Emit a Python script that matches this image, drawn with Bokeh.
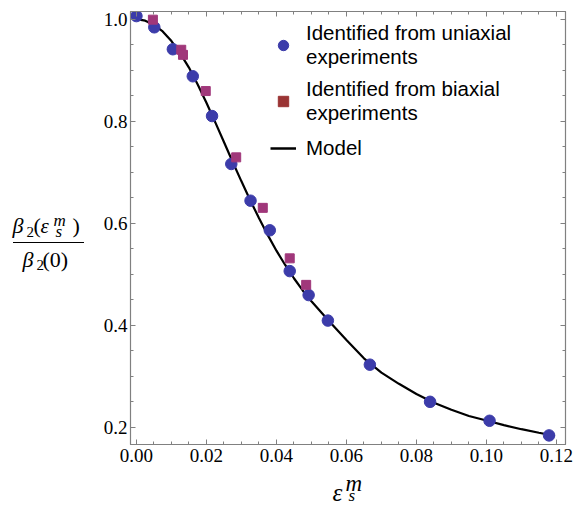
from bokeh.plotting import figure
from bokeh.layouts import row, column
from bokeh.models import Range1d, FixedTicker, LinearAxis, Legend, LegendItem
from bokeh.core.properties import value
from bokeh.embed import file_html
from bokeh.resources import INLINE

# ---- data ----
uni_x = [0.0, 0.0051, 0.0104, 0.0161, 0.0216, 0.0271, 0.0326, 0.0381,
         0.0438, 0.0492, 0.0547, 0.0667, 0.0839, 0.1009, 0.1179]
uni_y = [1.006, 0.984, 0.941, 0.888, 0.810, 0.716, 0.644, 0.586,
         0.506, 0.459, 0.409, 0.3225, 0.2497, 0.2125, 0.1838]

bi_x = [0.0047, 0.0128, 0.0133, 0.0198, 0.0285, 0.0361, 0.0438, 0.0485]
bi_y = [0.999, 0.940, 0.930, 0.859, 0.729, 0.630, 0.531, 0.479]

model_x = [0.0, 0.0025, 0.005, 0.0075, 0.01, 0.0125, 0.015, 0.0175, 0.02,
           0.0225, 0.025, 0.0275, 0.03, 0.0325, 0.035, 0.0375, 0.04, 0.0425,
           0.045, 0.0475, 0.05, 0.055, 0.06, 0.065, 0.07, 0.075, 0.08, 0.085,
           0.09, 0.095, 0.10, 0.105, 0.11, 0.115, 0.1195]
model_y = [1.000, 0.997, 0.989, 0.976, 0.957, 0.933, 0.905, 0.872, 0.836,
           0.798, 0.759, 0.720, 0.682, 0.645, 0.610, 0.577, 0.546, 0.518,
           0.492, 0.468, 0.447, 0.408, 0.371, 0.335, 0.307, 0.285, 0.265,
           0.248, 0.234, 0.222, 0.213, 0.204, 0.196, 0.189, 0.183]

x_ticks = [0.0, 0.02, 0.04, 0.06, 0.08, 0.10, 0.12]
y_ticks = [0.2, 0.4, 0.6, 0.8, 1.0]
x_minor = [i * 0.005 for i in range(0, 25)]
y_minor = [0.15 + i * 0.05 for i in range(0, 18)]

legend_labels = ["Identified from uniaxial\nexperiments",
                 "Identified from biaxial\nexperiments",
                 "Model"]

FRAME = "#808080"
BLUE = "#3c3caa"
MAG = "#a0377a"
RED = "#9a3434"
SERIF = "Liberation Serif"
NAN = float("nan")

TOP_H = 470
LEFT_W = 94
F_TOP, F_BOT = 11, 444          # frame top / bottom on the page

# ---------------- main plot ----------------
p = figure(width=586 - LEFT_W, height=TOP_H, output_backend="svg", toolbar_location=None,
           title=None,
           x_range=Range1d(-0.0017, 0.1226), y_range=Range1d(0.166, 1.015),
           min_border_left=36, min_border_right=21, min_border_top=F_TOP,
           min_border_bottom=TOP_H - F_BOT)
p.grid.visible = False
p.outline_line_color = FRAME
p.outline_line_width = 1.2


def style_axis(ax, ticks, minor, show_labels=True, standoff=4):
    ax.ticker = FixedTicker(ticks=ticks, minor_ticks=minor)
    ax.axis_line_color = FRAME
    ax.major_tick_line_color = FRAME
    ax.minor_tick_line_color = FRAME
    ax.major_tick_in = 5
    ax.major_tick_out = 0
    ax.minor_tick_in = 3
    ax.minor_tick_out = 0
    ax.major_label_text_font = SERIF
    ax.major_label_text_font_size = "19px"
    ax.major_label_text_color = "black"
    ax.major_label_standoff = standoff
    if not show_labels:
        ax.major_label_text_font_size = "0px"
        ax.major_label_standoff = 0


style_axis(p.xaxis[0], x_ticks, x_minor, standoff=4)
style_axis(p.yaxis[0], y_ticks, y_minor, standoff=3)
p.xaxis[0].major_label_overrides = {t: f"{t:.2f}" for t in x_ticks}
p.yaxis[0].major_label_overrides = {t: f"{t:.1f}" for t in y_ticks}

top_ax = LinearAxis()
style_axis(top_ax, x_ticks, x_minor, show_labels=False)
p.add_layout(top_ax, "above")
right_ax = LinearAxis()
style_axis(right_ax, y_ticks, y_minor, show_labels=False)
p.add_layout(right_ax, "right")

line_r = p.line(model_x, model_y, line_color="black", line_width=2.2)
uni_r = p.scatter(uni_x, uni_y, marker="circle", size=11.5,
                  fill_color=BLUE, line_color=BLUE)
bi_r = p.scatter(bi_x, bi_y, marker="square", size=9,
                 fill_color=MAG, line_color=MAG)

# legend-only renderers (no visible point)
lg_uni = p.scatter([NAN], [NAN], marker="circle", fill_color=BLUE, line_color=BLUE)
lg_bi = p.scatter([NAN], [NAN], marker="square", fill_color=RED, line_color=RED)
lg_line = p.line([NAN, NAN], [NAN, NAN], line_color="black", line_width=2.5)

legend = Legend(items=[LegendItem(label=legend_labels[0], renderers=[lg_uni]),
                       LegendItem(label=legend_labels[1], renderers=[lg_bi]),
                       LegendItem(label=legend_labels[2], renderers=[lg_line])],
                location=(140, 281), orientation="vertical",
                border_line_alpha=0, background_fill_alpha=0,
                label_text_font="Liberation Sans", label_text_font_size="20.5px",
                label_text_color="black", label_text_line_height=1.45,
                glyph_width=26, glyph_height=30, label_standoff=10,
                spacing=8, padding=0, margin=0, label_height=24)
p.add_layout(legend, "center")

EM_MID = 0.3375   # baseline -> middle of the text box, in em


def text_piece(fig, x, baseline, txt, size, italic):
    fig.text([x], [baseline - EM_MID * size], text=[txt], text_font=value(SERIF),
             text_font_size=value(f"{size}px"),
             text_font_style="italic" if italic else "normal",
             text_color="black", text_align="left", text_baseline="middle")


# ---------------- y-axis title (fraction) ----------------
yl = figure(width=LEFT_W, height=TOP_H, output_backend="svg", toolbar_location=None,
            title=None, x_range=Range1d(0, LEFT_W), y_range=Range1d(F_BOT, F_TOP),
            min_border_left=0, min_border_right=0, min_border_top=F_TOP,
            min_border_bottom=TOP_H - F_BOT,
            x_axis_location=None, y_axis_location=None)
yl.grid.visible = False
yl.outline_line_color = None

num_text = ["\u03b2", "2", "(", "\u03b5", "m", "s", ")"]
num_x = [12, 26, 33, 40, 53, 55, 72]
num_base = [232.5, 237, 232.5, 232.5, 225.5, 237, 232.5]
num_size = [22, 15, 22, 21, 17, 17, 22]
num_ital = [True, False, False, True, True, True, False]
for t, x, y, s, it in zip(num_text, num_x, num_base, num_size, num_ital):
    text_piece(yl, x, y, t, s, it)
yl.segment(x0=[12.5], y0=[242], x1=[83.5], y1=[242], line_color="black", line_width=1.2)
den_text = ["\u03b2", "2", "(0)"]
den_x = [22, 36, 42]
den_base = [266, 270, 266]
den_size = [22, 15, 22]
den_ital = [True, False, False]
for t, x, y, s, it in zip(den_text, den_x, den_base, den_size, den_ital):
    text_piece(yl, x, y, t, s, it)

# ---------------- x-axis title ----------------
BOT_H = 506 - TOP_H
xl = figure(width=586, height=BOT_H, output_backend="svg", toolbar_location=None,
            title=None, x_range=Range1d(0, 586), y_range=Range1d(506, TOP_H),
            min_border=0, x_axis_location=None, y_axis_location=None)
xl.grid.visible = False
xl.outline_line_color = None
text_piece(xl, 332, 500, "\u03b5", 25, True)
text_piece(xl, 345, 491, "m", 23, True)
text_piece(xl, 348, 501, "s", 17, True)

layout = column(row(yl, p), xl)
open("out.html", "w").write(file_html(layout, INLINE))
